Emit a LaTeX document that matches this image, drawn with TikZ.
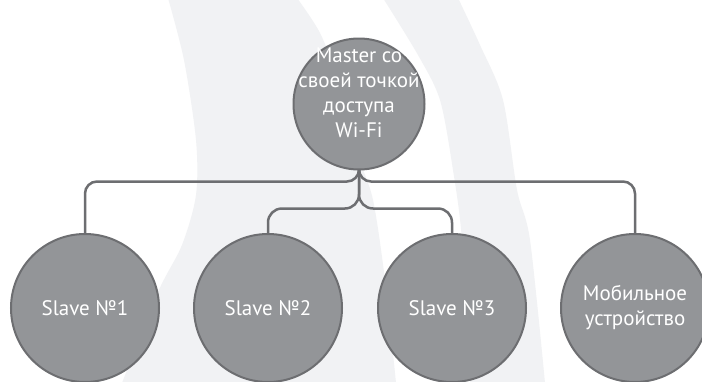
\documentclass[tikz,border=0pt]{standalone}
\usepackage{fontspec}
\setmainfont{PT Sans}
\definecolor{bgband}{RGB}{241,242,244}
\definecolor{nodefill}{RGB}{147,149,152}
\definecolor{edgecol}{RGB}{109,110,113}
\begin{document}
\begin{tikzpicture}[x=1pt,y=-1pt,
  hub/.style={circle,draw=edgecol,line width=2pt,fill=nodefill,minimum size=131pt,inner sep=0pt,outer sep=0pt},
  leaf/.style={circle,draw=edgecol,line width=2pt,fill=nodefill,minimum size=148pt,inner sep=0pt,outer sep=0pt,text=white,align=center,font=\fontsize{21}{25}\selectfont},
  lbl/.style={text=white,align=center,font=\fontsize{21}{25}\selectfont,inner sep=0pt},
  conn/.style={draw=edgecol,line width=2.5pt,rounded corners=12pt},
]
\useasboundingbox (0,0) rectangle (702,381);
\fill[white] (0,0) rectangle (702,381);
% background bands
\fill[bgband] plot[smooth] coordinates {(168,-2) (184,60) (196,140) (196,195) (182,245) (158,292) (122,383)}
  -- (396,383) -- plot[smooth] coordinates {(396,383) (385,280) (373,200) (358,155) (338,80) (320,33) (297,-2)} -- cycle;
\fill[bgband] plot[smooth] coordinates {(383,-2) (418,55) (440,100) (453,170) (462,240) (470,383)}
  -- plot[smooth] coordinates {(545,383) (530,240) (517,190) (503,100) (480,45) (458,-2)} -- cycle;
% nodes
\node[hub] (m) at (359,104) {};
\node[lbl] (mt) at (359,93) {Master co\\своей точкой\\доступа\\Wi-Fi};
\node[leaf] (s1) at (85,308) {Slave №1};
\node[leaf] (s2) at (268,308) {Slave №2};
\node[leaf] (s3) at (452,308) {Slave №3};
\node[leaf] (s4) at (635,308) {Мобильное\\устройство};
% connectors
\draw[conn] (m.south) -- ++(0,12) -| (s1.north);
\draw[conn] (m.south) -- ++(0,12) -| (s4.north);
\draw[conn,rounded corners=14pt] (m.south) -- ++(0,39) -| (s2.north);
\draw[conn,rounded corners=14pt] (m.south) -- ++(0,39) -| (s3.north);
\end{tikzpicture}
\end{document}
